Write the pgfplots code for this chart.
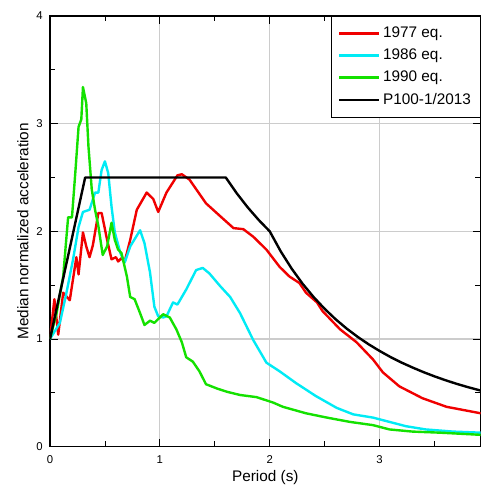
\documentclass[border=0pt]{standalone}
\usepackage{pgfplots}
\pgfplotsset{compat=1.18}
\usepackage{fontspec}
\setmainfont{Liberation Sans}
\definecolor{cRed}{RGB}{240,0,0}
\definecolor{cCyan}{RGB}{0,235,245}
\definecolor{cGreen}{RGB}{20,225,0}
\begin{document}
\begin{tikzpicture}
\begin{axis}[
  scale only axis, width=323pt, height=323pt,
  xmin=0, xmax=3.92, ymin=0, ymax=4,
  xtick={0,1,2,3}, ytick={0,1,2,3,4},
  minor xtick={0.5,1.5,2.5,3.5}, minor ytick={0.5,1.5,2.5,3.5},
  tick align=inside, major tick length=6pt, minor tick length=4pt,
  tick style={black, line width=0.6pt},
  grid=major, major grid style={gray!40, line width=0.8pt},
  axis line style={black, line width=0.9pt},
  ticklabel style={font=\fontsize{8.5}{10}\selectfont},
  xticklabel style={yshift=-3pt}, yticklabel style={xshift=-2pt},
  /pgf/number format/assume math mode=true,
  xlabel={Period (s)}, ylabel={Median normalized acceleration},
  label style={font=\fontsize{11.5}{13}\selectfont},
  xlabel style={yshift=2pt}, ylabel style={yshift=-1pt},
  legend style={at={(rel axis cs:1,1)}, anchor=north east, draw=black, line width=0.6pt,
    font=\fontsize{11.5}{13}\selectfont, row sep=3pt, inner xsep=5pt, inner ysep=6pt},
  legend cell align=left,
  legend image code/.code={\draw[#1, line width=1.8pt] (0cm,0cm) -- (1.05cm,0cm);},
  every axis plot/.append style={line width=1.8pt, line join=round},
]
\addplot[cRed] coordinates {
(0,1.0) (0.04,1.37) (0.075,1.04) (0.12,1.43) (0.18,1.36) (0.24,1.76) (0.26,1.6) (0.30,1.99)
(0.33,1.86) (0.36,1.76) (0.39,1.87) (0.44,2.17) (0.47,2.17) (0.52,1.92) (0.56,1.74)
(0.60,1.76) (0.62,1.72) (0.65,1.75) (0.68,1.72) (0.73,1.92) (0.79,2.20) (0.88,2.36)
(0.94,2.30) (0.985,2.18) (1.06,2.36) (1.16,2.52) (1.20,2.53) (1.27,2.48) (1.42,2.26)
(1.55,2.14) (1.67,2.03) (1.76,2.02) (1.85,1.95) (1.97,1.83) (2.09,1.67) (2.18,1.58)
(2.27,1.52) (2.33,1.43) (2.43,1.34) (2.48,1.26) (2.64,1.09) (2.79,0.97) (2.94,0.81)
(3.03,0.69) (3.18,0.56) (3.39,0.45) (3.61,0.37) (3.92,0.31)
};
\addlegendentry{1977 eq.}
\addplot[cCyan] coordinates {
(0,1.0) (0.09,1.15) (0.15,1.43) (0.21,1.74) (0.26,2.04) (0.30,2.18) (0.36,2.20)
(0.41,2.36) (0.44,2.36) (0.47,2.57) (0.50,2.65) (0.53,2.54) (0.56,2.23) (0.59,1.99)
(0.64,1.80) (0.68,1.71) (0.73,1.86) (0.82,2.01) (0.86,1.89) (0.91,1.62) (0.95,1.30)
(0.985,1.21) (1.03,1.20) (1.06,1.21) (1.12,1.34) (1.16,1.32) (1.24,1.46) (1.33,1.64)
(1.39,1.66) (1.45,1.61) (1.55,1.49) (1.64,1.39) (1.73,1.24) (1.85,0.99) (1.97,0.78)
(2.09,0.70) (2.24,0.59) (2.42,0.47) (2.61,0.36) (2.76,0.30) (2.94,0.27) (3.09,0.23)
(3.24,0.19) (3.42,0.16) (3.67,0.14) (3.92,0.13)
};
\addlegendentry{1986 eq.}
\addplot[cGreen] coordinates {
(0,1.0) (0.06,1.24) (0.12,1.58) (0.15,1.95) (0.165,2.13) (0.20,2.13) (0.23,2.54)
(0.26,2.97) (0.285,3.04) (0.30,3.34) (0.33,3.19) (0.35,2.79) (0.38,2.39) (0.41,2.20)
(0.44,2.05) (0.48,1.78) (0.52,1.86) (0.56,2.08) (0.59,1.92) (0.62,1.83) (0.65,1.80)
(0.70,1.58) (0.73,1.39) (0.77,1.37) (0.82,1.24) (0.86,1.13) (0.91,1.17) (0.95,1.15)
(1.03,1.23) (1.09,1.20) (1.15,1.09) (1.20,0.97) (1.24,0.83) (1.30,0.79) (1.36,0.70)
(1.42,0.58) (1.52,0.54) (1.61,0.51) (1.73,0.48) (1.88,0.46) (2.03,0.41) (2.12,0.37)
(2.33,0.31) (2.52,0.27) (2.73,0.23) (2.94,0.20) (3.09,0.16) (3.30,0.14) (3.55,0.13)
(3.92,0.11)
};
\addlegendentry{1990 eq.}
\addplot[black] coordinates {
(0,1.0) (0.32,2.5) (1.6,2.5) (1.7,2.353) (1.8,2.222) (1.9,2.105) (2.0,2.0)
(2.1,1.814) (2.2,1.653) (2.3,1.512) (2.4,1.389) (2.5,1.28) (2.6,1.183) (2.7,1.097)
(2.8,1.020) (2.9,0.951) (3.0,0.889) (3.1,0.832) (3.2,0.781) (3.3,0.735) (3.4,0.692)
(3.5,0.653) (3.6,0.617) (3.7,0.584) (3.8,0.554) (3.92,0.521)
};
\addlegendentry{P100-1/2013}
\coordinate (sw) at (rel axis cs:0,0);
\coordinate (ne) at (rel axis cs:1,1);
\end{axis}
\pgfresetboundingbox
\path ([xshift=-37.5pt,yshift=-31pt]sw) rectangle ([yshift=12pt]ne);
\end{tikzpicture}
\end{document}
